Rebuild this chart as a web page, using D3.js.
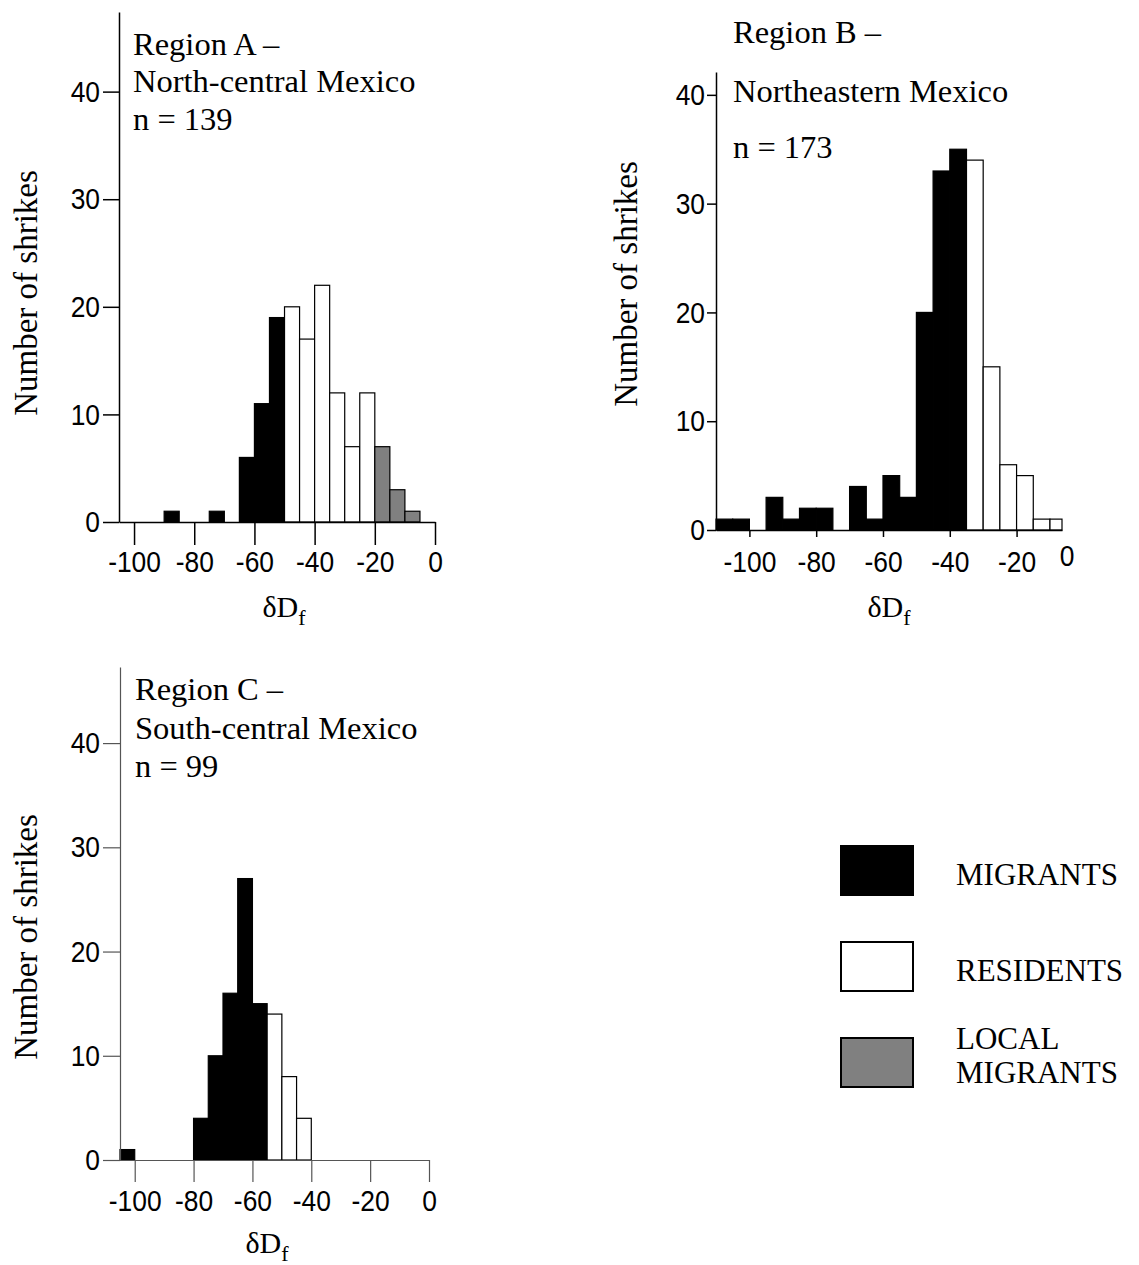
<!DOCTYPE html>
<html>
<head>
<meta charset="utf-8">
<script src="https://cdn.jsdelivr.net/npm/d3@7"></script>
<style>
  body { margin: 0; background: #fff; }
  svg text { fill: #000; }
  .serif { font-family: "Liberation Serif", "Times New Roman", serif; }
  .tick text, .sans { font-family: "Liberation Sans", Arial, sans-serif; font-size: 30px; }
</style>
</head>
<body>
<svg id="chart" width="1139" height="1265"></svg>
<script>
// bin width of the histograms (per mil)
const BIN = 5;

// Region A - North-central Mexico (bin start values)
const binsA   = [-90, -85, -80, -75, -70, -65, -60, -55, -50, -45, -40, -35, -30, -25, -20, -15, -10];
const countsA = [  1,   0,   0,   1,   0,   6,  11,  19,  20,  17,  22,  12,   7,  12,   7,   3,   1];
const groupsA = ['M','M','M','M','M','M','M','M','R','R','R','R','R','R','L','L','L'];

// Region B - Northeastern Mexico
const binsB   = [-110, -105, -100, -95, -90, -85, -80, -75, -70, -65, -60, -55, -50, -45, -40, -35, -30, -25, -20, -15, -10];
const countsB = [   1,    1,    0,   3,   1,   2,   2,   0,   4,   1,   5,   3,  20,  33,  35,  34,  15,   6,   5,   1,   1];
const groupsB = ['M','M','M','M','M','M','M','M','M','M','M','M','M','M','M','R','R','R','R','R','R'];

// Region C - South-central Mexico
const binsC   = [-105, -100, -95, -90, -85, -80, -75, -70, -65, -60, -55, -50, -45];
const countsC = [   1,    0,   0,   0,   0,   4,  10,  16,  27,  15,  14,   8,   4];
const groupsC = ['M','M','M','M','M','M','M','M','M','M','R','R','R'];

const ticksX = [-100, -80, -60, -40, -20, 0];
const ticksXB = [-100, -80, -60, -40, -20];
const ticksY = [0, 10, 20, 30, 40];

const legendLabels = [['MIGRANTS'], ['RESIDENTS'], ['LOCAL', 'MIGRANTS']];
const legendGroups = ['M', 'R', 'L'];

const FILL = { M: '#000000', R: '#ffffff', L: '#808080' };

const svg = d3.select('#chart');

const panels = [
    {
        bins: binsA, counts: countsA, groups: groupsA,
        xDomain: [-105, 0], xRange: [119, 435], yDomain: [0, 47.4], yRange: [522, 12],
        xTicks: ticksX, xTickLen: 23, xPad: 6, yTickLen: 16, yPad: 3,
        axisColor: '#000', axisWidth: 1.5,
        title: ['Region A –', 'North-central Mexico', 'n = 139'], titleX: 133, titleY: [55, 92, 130],
        yLab: [25, 293], xLab: [284, 617]
    },
    {
        bins: binsB, counts: countsB, groups: groupsB,
        xDomain: [-110, -6.4], xRange: [716, 1062], yDomain: [0, 42.1], yRange: [530, 72],
        xTicks: ticksXB, xTickLen: 7, xPad: 14, yTickLen: 9, yPad: 2,
        axisColor: '#000', axisWidth: 1.5,
        title: ['Region B –', 'Northeastern Mexico', 'n = 173'], titleX: 733, titleY: [43, 102, 158],
        yLab: [625, 284], xLab: [889, 617], zeroLabel: true
    },
    {
        bins: binsC, counts: countsC, groups: groupsC,
        xDomain: [-105, 0], xRange: [120, 429], yDomain: [0, 47.3], yRange: [1160, 667],
        xTicks: ticksX, xTickLen: 22, xPad: 8, yTickLen: 17, yPad: 3,
        axisColor: '#555', axisWidth: 1.2,
        title: ['Region C –', 'South-central Mexico', 'n = 99'], titleX: 135, titleY: [700, 739, 777],
        yLab: [25, 937], xLab: [267, 1253]
    }
];

function squeezeText(axisG) {
    axisG.selectAll('text').each(function() {
        const t = d3.select(this);
        const xx = +t.attr('x') || 0;
        t.attr('x', 0).attr('transform', `translate(${xx},0) scale(0.88,1)`);
    });
}

panels.forEach(p => {
    const x = d3.scaleLinear().domain(p.xDomain).range(p.xRange);
    const y = d3.scaleLinear().domain(p.yDomain).range(p.yRange);
    const g = svg.append('g');

    // bars
    g.selectAll('rect.bar')
        .data(d3.range(p.bins.length))
        .join('rect')
        .attr('class', 'bar')
        .attr('x', i => x(p.bins[i]))
        .attr('width', i => x(Math.min(p.bins[i] + BIN, p.xDomain[1])) - x(p.bins[i]))
        .attr('y', i => y(p.counts[i]))
        .attr('height', i => y(0) - y(p.counts[i]))
        .attr('fill', i => FILL[p.groups[i]])
        .attr('stroke', '#000')
        .attr('stroke-width', 1.2);

    // axes
    const xAxis = g.append('g')
        .attr('transform', `translate(0,${y(0)})`)
        .call(d3.axisBottom(x).tickValues(p.xTicks).tickSize(p.xTickLen)
            .tickPadding(p.xPad).tickSizeOuter(0).tickFormat(d => String(d)));
    const yAxis = g.append('g')
        .attr('transform', `translate(${x(p.xDomain[0])},0)`)
        .call(d3.axisLeft(y).tickValues(ticksY).tickSize(p.yTickLen)
            .tickPadding(p.yPad).tickSizeOuter(0).tickFormat(d => String(d)));

    [xAxis, yAxis].forEach(a => {
        a.attr('font-family', null).attr('font-size', null);
        a.selectAll('path, line').attr('stroke', p.axisColor).attr('stroke-width', p.axisWidth);
        squeezeText(a);
    });

    if (p.zeroLabel) {
        xAxis.append('text')
            .attr('class', 'sans')
            .attr('text-anchor', 'middle')
            .attr('transform', `translate(${p.xRange[1] + 5},${p.xTickLen + p.xPad - 6}) scale(0.88,1)`)
            .attr('dy', '0.71em')
            .text('0');
    }

    // region title
    const title = g.append('text').attr('class', 'serif').style('font-size', '32.5px');
    p.title.forEach((line, k) => {
        title.append('tspan').attr('x', p.titleX).attr('y', p.titleY[k]).text(line);
    });

    // y axis title
    g.append('text')
        .attr('class', 'serif')
        .style('font-size', '33px')
        .attr('text-anchor', 'middle')
        .attr('transform', `translate(${p.yLab[0]},${p.yLab[1]}) rotate(-90)`)
        .attr('dy', '0.35em')
        .text('Number of shrikes');

    // x axis title
    const xl = g.append('text')
        .attr('class', 'serif')
        .style('font-size', '30px')
        .attr('text-anchor', 'middle')
        .attr('x', p.xLab[0])
        .attr('y', p.xLab[1]);
    xl.append('tspan').text('δD');
    xl.append('tspan').attr('dy', 8).style('font-size', '22px').text('f');
});

// Legend
const legend = svg.append('g').attr('transform', 'translate(840, 846)');
legendGroups.forEach((grp, i) => {
    const item = legend.append('g').attr('transform', `translate(0, ${i * 96})`);
    item.append('rect')
        .attr('x', 1).attr('y', 0)
        .attr('width', 72).attr('height', 49)
        .attr('fill', FILL[grp])
        .attr('stroke', '#000')
        .attr('stroke-width', 2);
    const t = item.append('text').attr('class', 'serif').style('font-size', '31px');
    const lines = legendLabels[i];
    lines.forEach((line, k) => {
        const base = lines.length === 1 ? 39 : 11 + k * 34;
        t.append('tspan').attr('x', 116).attr('y', base).text(line);
    });
});
</script>
</body>
</html>
